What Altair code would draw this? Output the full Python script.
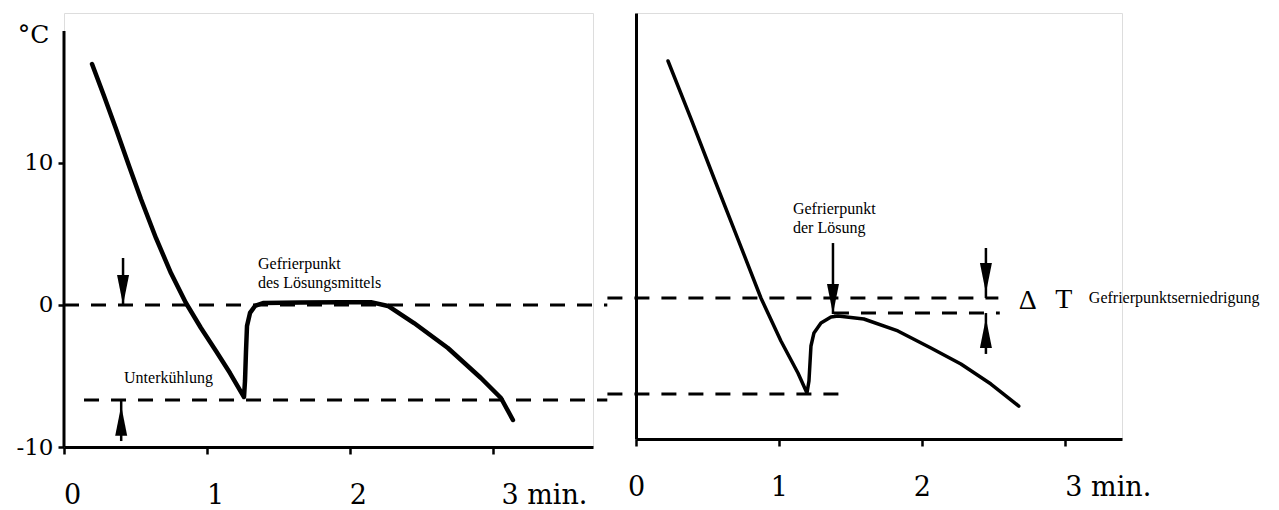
import altair as alt
import pandas as pd

# ---------------- data (time in min, temperature in °C) ----------------
# left panel: pure solvent
left_t = [0.196, 0.280, 0.364, 0.455, 0.538, 0.643, 0.748, 0.853, 0.958, 1.063, 1.161, 1.259,
          1.266, 1.273, 1.280, 1.301, 1.336, 1.392, 1.657, 1.937, 2.147, 2.266, 2.448, 2.685,
          2.916, 3.056, 3.140]
left_T = [16.97, 14.72, 12.39, 9.79, 7.46, 4.72, 2.25, 0.14, -1.62, -3.24, -4.79, -6.48,
          -5.35, -3.24, -1.48, -0.56, -0.07, 0.14, 0.17, 0.2, 0.2, -0.07, -1.27, -3.03,
          -5.14, -6.55, -8.10]
# right panel: solution
right_t = [0.224, 0.385, 0.545, 0.713, 0.874, 1.014, 1.133, 1.196,
           1.210, 1.224, 1.245, 1.294, 1.364, 1.413, 1.594, 1.832, 2.063, 2.273, 2.483, 2.678]
right_T = [16.69, 12.61, 8.45, 4.15, 0.0, -3.03, -5.28, -6.69,
           -5.85, -3.38, -2.46, -1.76, -1.34, -1.27, -1.48, -2.32, -3.52, -4.65, -6.06, -7.61]

x_ticks = [0, 1, 2, 3]
y_ticks = [-10, 0, 10]

# dashed reference levels
left_dash_T = [0.0, -6.69]
left_dash_t1 = [0.0, 0.14]
left_dash_t2 = [3.8, 3.8]
right_dash_T = [0.0, -1.06, -6.76]
right_dash_t1 = [-0.2, 1.385, -0.2]
right_dash_t2 = [2.535, 2.545, 1.483]

# arrows
left_arrow_t = [0.413, 0.40]
left_arrow_from = [3.31, -9.58]
left_arrow_to = [0.0, -6.69]
left_arrow_tip = [0.0, -7.1]
left_arrow_dir = ["down", "up"]
right_arrow_t = [1.378, 2.448, 2.448]
right_arrow_from = [3.87, 3.52, -3.94]
right_arrow_to = [-1.13, 0.0, -1.06]
right_arrow_tip = [-1.13, 0.35, -1.41]
right_arrow_dir = ["down", "down", "up"]

# annotations
left_text = ["Gefrierpunkt", "des Lösungsmittels", "Unterkühlung"]
left_text_t = [1.357, 1.357, 0.42]
left_text_T = [2.89, 1.55, -5.14]
right_text = ["Gefrierpunkt", "der Lösung", "Gefrierpunktserniedrigung"]
right_text_t = [1.098, 1.098, 3.168]
right_text_T = [6.27, 4.93, 0.0]
delta_text = ["Δ", "T"]
delta_t = [2.741, 2.993]
delta_T = [-0.2, -0.15]

# ---------------- helpers ----------------
DOWN = "M-0.4,-2L0.4,-2L0,0Z"
UP = "M-0.4,2L0.4,2L0,0Z"
LABEL_FONT = "DejaVu Serif"
TEXT_FONT = "Liberation Serif"


def x_axis(dx):
    return alt.Axis(
        values=x_ticks, title=None, grid=False, domain=True, domainWidth=3,
        domainColor="black", ticks=True, tickSize=7, tickWidth=2.5, tickColor="black",
        labelFont=LABEL_FONT, labelFontSize=27, labelColor="black", labelPadding=28,
        labelFlush=False, labelOffset=dx, labelOverlap=False,
        labelExpr="datum.value == 3 ? '3 min.' : datum.label",
        labelAlign={"condition": {"test": "datum.value == 3", "value": "left"},
                    "value": "center"},
    )


yax_L = alt.Axis(
    values=y_ticks, title="°C", titleAngle=0, titleX=-31, titleY=21,
    titleAlign="center", titleBaseline="middle", titleFont=LABEL_FONT,
    titleFontSize=25, titleFontWeight="normal", titleColor="black",
    domain=False, grid=False, ticks=True, tickSize=6, tickWidth=2.5, tickColor="black",
    labelFont=LABEL_FONT, labelFontSize=23, labelColor="black", labelPadding=5,
    labelExpr="replace(datum.label, '\u2212', '-')",
)
yax_R = alt.Axis(title=None, labels=False, ticks=False, grid=False, domain=True,
                 domainWidth=3, domainColor="black")


def panel(t, T, curve_w, dash, arrows, texts, xdom, ydom, w, h, xax, yax, extra=None):
    xs = alt.Scale(domain=xdom, nice=False, zero=False)
    ys = alt.Scale(domain=ydom, nice=False, zero=False)

    def X(f):
        return alt.X(f, type="quantitative", scale=xs, axis=xax)

    def Y(f):
        return alt.Y(f, type="quantitative", scale=ys, axis=yax)

    curve_df = pd.DataFrame({"t": t, "T": T, "i": range(len(t))})
    curve = alt.Chart(curve_df).mark_line(
        color="black", strokeWidth=curve_w, strokeJoin="round", strokeCap="round"
    ).encode(x=X("t"), y=Y("T"), order="i:Q")

    dash_df = pd.DataFrame({"t1": dash[0], "t2": dash[1], "T": dash[2]})
    dashes = alt.Chart(dash_df).mark_rule(
        color="black", strokeWidth=3, strokeDash=[15, 12]
    ).encode(x=X("t1"), x2="t2", y=Y("T"))

    arr_df = pd.DataFrame({"t": arrows[0], "a": arrows[1], "b": arrows[2],
                           "tip": arrows[3], "dir": arrows[4]})
    shafts = alt.Chart(arr_df).mark_rule(color="black", strokeWidth=2.5).encode(
        x=X("t"), y=Y("a"), y2="b")
    heads = alt.Chart(arr_df).mark_point(
        filled=True, size=900, color="black", opacity=1, strokeWidth=0
    ).encode(
        x=X("t"), y=Y("tip"),
        shape=alt.Shape("dir:N", scale=alt.Scale(domain=["down", "up"], range=[DOWN, UP]),
                        legend=None),
    )

    txt_df = pd.DataFrame({"t": texts[0], "T": texts[1], "s": texts[2]})
    txt = alt.Chart(txt_df).mark_text(
        align="left", baseline="middle", font=TEXT_FONT, fontSize=16, color="black"
    ).encode(x=X("t"), y=Y("T"), text="s:N")

    layers = [dashes, curve, shafts, heads, txt]
    if extra is not None:
        layers += extra(X, Y)
    return alt.layer(*layers).properties(width=w, height=h)


def left_extra(X, Y):
    ax_df = pd.DataFrame({"t": [0.0], "lo": [-10.0], "hi": [19.3]})
    ax = alt.Chart(ax_df).mark_rule(color="black", strokeWidth=3).encode(
        x=X("t"), y=Y("lo"), y2="hi")
    return [ax]


def right_extra(X, Y):
    d_df = pd.DataFrame({"t": delta_t, "T": delta_T, "s": delta_text})
    d = alt.Chart(d_df).mark_text(
        align="center", baseline="middle", font=TEXT_FONT, fontSize=28, color="black"
    ).encode(x=X("t"), y=Y("T"), text="s:N")
    return [d]


left = panel(
    left_t, left_T, 4.5,
    (left_dash_t1, left_dash_t2, left_dash_T),
    (left_arrow_t, left_arrow_from, left_arrow_to, left_arrow_tip, left_arrow_dir),
    (left_text_t, left_text_T, left_text),
    [0, 3.7], [-10, 20.56], 529, 434, x_axis(8), yax_L, left_extra,
)
right = panel(
    right_t, right_T, 3.5,
    (right_dash_t1, right_dash_t2, right_dash_T),
    (right_arrow_t, right_arrow_from, right_arrow_to, right_arrow_tip, right_arrow_dir),
    (right_text_t, right_text_T, right_text),
    [0, 3.4], [-9.93, 20.07], 486, 426, x_axis(0), yax_R, right_extra,
)

chart = alt.hconcat(left, right, spacing=43, bounds="flush").properties(
    padding={"left": 7, "top": 4, "right": 2, "bottom": 0}
).configure_view(stroke=None).configure(background="white")

chart.save("out.html", embed_options={"renderer": "svg", "actions": False})
